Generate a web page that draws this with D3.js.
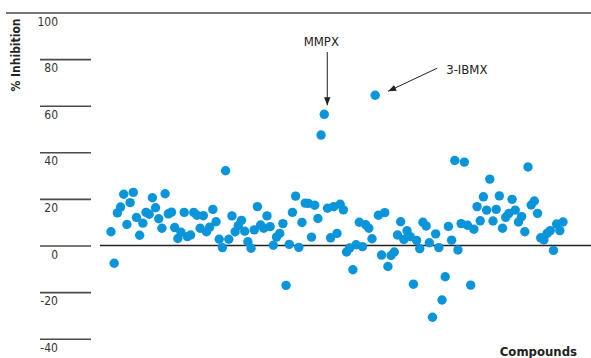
<!DOCTYPE html>
<html>
<head>
<meta charset="utf-8">
<script src="https://cdn.jsdelivr.net/npm/d3@7"></script>
<style>
  html, body { margin: 0; padding: 0; background: #fff; }
  svg { display: block; }
  text { font-family: "DejaVu Sans Condensed", "Liberation Sans Narrow", Roboto, sans-serif; }
</style>
</head>
<body>
<svg id="chart" width="591" height="358"></svg>
<script>
// % inhibition for each compound, in plotting order
const inhibition = [
  5.9, -7.6, 14.0, 16.5, 22.0, 9.0, 18.4, 22.8, 12.0, 4.4,
  9.6, 14.2, 13.4, 20.5, 16.2, 11.5, 7.4, 22.2, 13.6, 14.3,
  7.7, 3.0, 5.7, 14.2, 3.8, 4.5, 14.2, 13.0, 7.4, 12.8,
  5.9, 7.9, 15.5, 10.2, 2.7, -0.9, 32.1, 2.7, 12.7, 5.9,
  8.6, 10.8, 6.1, 1.6, -1.2, 6.7, 16.7, 8.8, 7.4, 12.7,
  8.1, 0.1, 3.6, 5.2, 9.4, -17.1, 0.5, 14.2, 21.2, -0.8,
  9.9, 18.2, 18.1, 3.6, 17.3, 11.6, 47.4, 56.3, 16.0, 3.3,
  16.7, 5.2, 17.7, 15.3, -2.8, -1.0, -10.4, 0.3, 10.0, -0.5,
  8.9, 7.4, 2.9, 64.5, 13.0, -4.1, 14.1, -9.0, -4.3, -2.8,
  4.5, 10.2, 2.6, 6.3, 3.8, -16.6, 2.2, -1.4, 10.0, 8.4,
  1.2, -30.8, 5.0, -0.9, -23.4, -13.4, 8.2, 2.3, 36.5, -1.9,
  9.4, 35.8, 8.7, -17.0, 7.0, 16.7, 10.6, 20.9, 15.2, 28.5,
  10.5, 15.5, 21.3, 7.4, 12.1, 13.8, 19.8, 15.2, 10.1, 12.4,
  5.9, 33.7, 17.4, 19.1, 13.8, 3.3, 2.4, 5.2, 6.4, -2.1,
  9.2, 6.4, 10.1
];
const compounds = inhibition.map((d, i) => i + 1);
const yTicks = [100, 80, 60, 40, 20, 0, -20, -40];
const yTickLabels = ["100", "80", "60", "40", "20", "0", "-20", "-40"];
const annotations = [
  { label: "MMPX", compound: 68 },
  { label: "3-IBMX", compound: 84 }
];
const yTitle = "% Inhibition";
const xTitle = "Compounds";

const svg = d3.select("#chart");
const x = d3.scaleLinear().domain([1, compounds.length]).range([111, 563]);
const y = d3.scaleLinear().domain([-40, 100]).range([338.7, 12.5]);

// tick segments + labels
const yAxis = d3.axisLeft(y).tickValues(yTicks).tickSize(51)
  .tickFormat((d, i) => yTickLabels[i]);
const gAxis = svg.append("g").attr("transform", "translate(91,0)").call(yAxis);
gAxis.select(".domain").remove();
gAxis.selectAll(".tick line").attr("stroke", "#4a4a4a").attr("stroke-width", 1.6);
gAxis.selectAll(".tick text")
  .attr("x", -33).attr("dy", "1.05em")
  .attr("text-anchor", "end")
  .attr("fill", "#333").attr("font-size", 12);
// top gridline (100) spans full width
gAxis.selectAll(".tick").filter(d => d === 100).select("line")
  .attr("x1", 500).attr("x2", -85);

// zero baseline across plot
svg.append("line")
  .attr("x1", 100).attr("x2", 591)
  .attr("y1", y(0)).attr("y2", y(0))
  .attr("stroke", "#222").attr("stroke-width", 1.6);

// points
svg.append("g").selectAll("circle")
  .data(inhibition)
  .join("circle")
  .attr("cx", (d, i) => x(compounds[i]))
  .attr("cy", d => y(d))
  .attr("r", 4.7)
  .attr("fill", "#0a95da");

// arrows
const defs = svg.append("defs");
defs.append("marker")
  .attr("id", "arr").attr("viewBox", "0 0 10 10")
  .attr("refX", 10).attr("refY", 5)
  .attr("markerWidth", 8).attr("markerHeight", 8)
  .attr("markerUnits", "userSpaceOnUse")
  .attr("orient", "auto")
  .append("path").attr("d", "M0,1 L10,5 L0,9 Z").attr("fill", "#222");

// MMPX
{
  const a = annotations[0];
  const px = x(a.compound), py = y(inhibition[a.compound - 1]);
  svg.append("line").attr("x1", px + 3).attr("y1", 52).attr("x2", px + 3).attr("y2", py - 9)
    .attr("stroke", "#222").attr("stroke-width", 1).attr("marker-end", "url(#arr)");
  svg.append("text").attr("x", px - 3).attr("y", 46).attr("text-anchor", "middle")
    .attr("font-size", 13).attr("fill", "#222").text(a.label);
}
// 3-IBMX
{
  const a = annotations[1];
  const px = x(a.compound), py = y(inhibition[a.compound - 1]);
  svg.append("line").attr("x1", px + 62).attr("y1", py - 27).attr("x2", px + 13).attr("y2", py - 4)
    .attr("stroke", "#222").attr("stroke-width", 1).attr("marker-end", "url(#arr)");
  svg.append("text").attr("x", px + 71).attr("y", py - 21).attr("text-anchor", "start")
    .attr("font-size", 13).attr("fill", "#222").text(a.label);
}

// axis titles
svg.append("text")
  .attr("transform", "translate(20,55) rotate(-90)")
  .attr("text-anchor", "middle")
  .attr("font-size", 12).attr("font-weight", "bold").attr("fill", "#222")
  .text(yTitle);
svg.append("text")
  .attr("x", 577).attr("y", 356)
  .attr("text-anchor", "end")
  .attr("font-size", 13).attr("font-weight", "bold").attr("fill", "#222")
  .text(xTitle);
</script>
</body>
</html>
